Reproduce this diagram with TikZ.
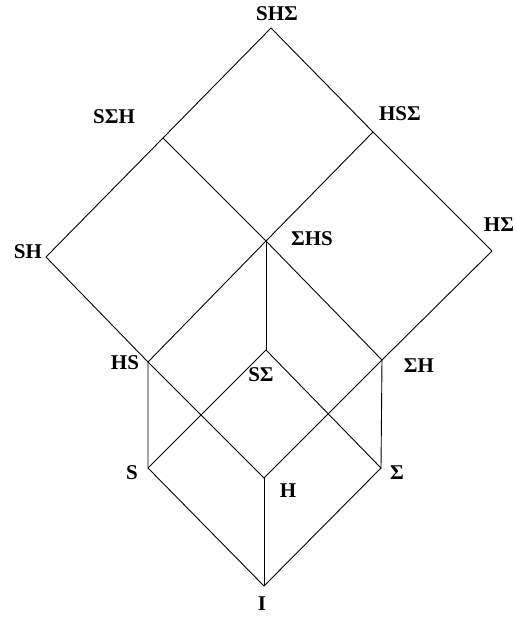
\documentclass[tikz,border=0pt]{standalone}
\usepackage{fontspec}
\setmainfont{Liberation Serif}
\begin{document}
\begin{tikzpicture}[x=1pt,y=-1pt,
  edge/.style={draw=black,line width=0.9pt},
  lbl/.style={inner sep=0pt,font=\fontsize{21}{23}\selectfont\bfseries}]
\useasboundingbox (0,0) rectangle (516,618);
% vertices
\coordinate (T) at (271,28);
\coordinate (SSH) at (163,138);
\coordinate (HSS) at (373,132);
\coordinate (SH) at (46,257);
\coordinate (SHS) at (266,241);
\coordinate (HSig) at (492,251);
\coordinate (HS) at (148,362);
\coordinate (SSig) at (266,350);
\coordinate (SigH) at (382,360);
\coordinate (S) at (148,468);
\coordinate (H) at (264,478);
\coordinate (Sig) at (381,468);
\coordinate (I) at (264,586);
% labels
\node[lbl] (lT) at (277,14) {SHΣ};
\node[lbl] (lSSH) at (114,117) {SΣH};
\node[lbl] (lHSS) at (400,114) {HSΣ};
\node[lbl] (lSH) at (28,252) {SH};
\node[lbl] (lSHS) at (312,239) {ΣHS};
\node[lbl] (lHSig) at (499,225) {HΣ};
\node[lbl] (lHS) at (125,363) {HS};
\node[lbl] (lSSig) at (261,375) {SΣ};
\node[lbl] (lSigH) at (419,366) {ΣH};
\node[lbl] (lS) at (132,473) {S};
\node[lbl] (lH) at (288,491) {H};
\node[lbl] (lSig) at (397,473) {Σ};
\node[lbl] (lI) at (262,604) {I};
% edges
\draw[edge] (SH) -- (SSH) -- (T) -- (HSS) -- (HSig);
\draw[edge] (SSH) -- (SHS) -- (HSS);
\draw[edge] (SH) -- (HS) -- (SHS) -- (SigH) -- (HSig);
\draw[edge] (SHS) -- (SSig);
\draw[edge] (HS) -- (S) -- (SSig) -- (Sig) -- (SigH);
\draw[edge] (HS) -- (H) -- (SigH);
\draw[edge] (S) -- (I) -- (Sig);
\draw[edge] (H) -- (I);
\end{tikzpicture}
\end{document}
